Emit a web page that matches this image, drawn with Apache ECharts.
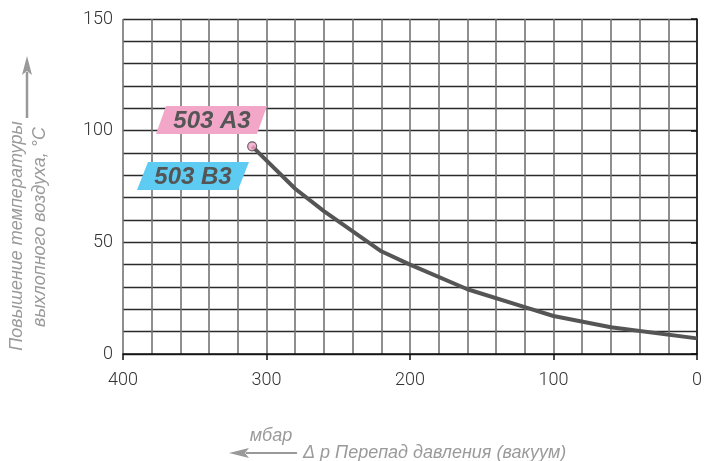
<!DOCTYPE html>
<html><head><meta charset="utf-8">
<script src="https://cdn.jsdelivr.net/npm/echarts@6/dist/echarts.min.js"></script>
<style>html,body{margin:0;padding:0;background:#fff}#c{width:705px;height:461px}</style>
</head><body><div id="c"></div>
<script>
// Data
const pressure = [310, 280, 260, 220, 200, 160, 120, 100, 60, 0];   // mbar (Δp vacuum)
const tempRise = [93, 74, 64, 46, 40, 29, 21, 17, 12, 7];           // °C
const xTickLabels = [0, 100, 200, 300, 400];
const yTickLabels = [0, 50, 100, 150];
const labelA = '503 A3';
const labelB = '503 B3';
const yTitle1 = 'Повышение температуры';
const yTitle2 = 'выхлопного воздуха, °С';
const xTitleUnit = 'мбар';
const xTitle = 'Δ p Перепад давления (вакуум)';

const chart = echarts.init(document.getElementById('c'), null, {renderer: 'canvas'});
const tickFont = {fontFamily: 'Roboto', fontWeight: 300, fontSize: 18, color: '#333'};
const titleFont = {fontFamily: 'Liberation Sans', fontStyle: 'italic', fontSize: 18, fill: '#9a9a9a'};
const labelFont = {fontFamily: 'Liberation Sans', fontWeight: 'bold', fontStyle: 'italic', fontSize: 24, fill: '#555'};

const xMin = Math.min(...xTickLabels), xMax = Math.max(...xTickLabels);
const yMin = Math.min(...yTickLabels), yMax = Math.max(...yTickLabels);

function para(x1, x2, y1, y2, skew, color) {
  return {type: 'polygon', shape: {points: [[x1 + skew, y1], [x2 + skew, y1], [x2, y2], [x1, y2]]},
    style: {fill: color}, z: 100};
}

chart.setOption({
  animation: false,
  backgroundColor: '#fff',
  grid: {left: 123, right: 8, top: 19, bottom: 107},
  xAxis: [
    {type: 'value', inverse: true, min: xMin, max: xMax, interval: 100,
      axisLine: {show: true, lineStyle: {color: '#111', width: 1.5}},
      axisTick: {show: true, length: 6, lineStyle: {color: '#111', width: 1.5}},
      axisLabel: Object.assign({margin: 17}, tickFont),
      splitLine: {show: false}, z: 5},
    {type: 'value', inverse: true, min: xMin, max: xMax, interval: 20, position: 'bottom',
      axisLine: {show: false}, axisTick: {show: false}, axisLabel: {show: false},
      splitLine: {show: true, lineStyle: {color: '#737373', width: 1.6}}}
  ],
  yAxis: [
    {type: 'value', min: yMin, max: yMax, interval: 50,
      axisLine: {show: true, lineStyle: {color: '#111', width: 1.5}},
      axisTick: {show: true, length: 6, lineStyle: {color: '#111', width: 1.5}},
      axisLabel: Object.assign({margin: 10}, tickFont),
      splitLine: {show: false}, z: 5},
    {type: 'value', min: yMin, max: yMax, interval: 10, position: 'left',
      axisLine: {show: false}, axisTick: {show: false}, axisLabel: {show: false},
      splitLine: {show: true, lineStyle: {color: '#2a2a2a', width: 1.4}}}
  ],
  series: [
    {type: 'line', xAxisIndex: 0, yAxisIndex: 0, data: pressure.map((p, i) => [p, tempRise[i]]),
      symbol: 'none', lineStyle: {color: '#555', width: 4}, z: 10},
    {type: 'scatter', xAxisIndex: 0, yAxisIndex: 0, data: [[pressure[0], tempRise[0]]],
      symbol: 'circle', symbolSize: 9,
      itemStyle: {color: '#f2a3c8', borderColor: '#444', borderWidth: 1.2}, z: 11}
  ],
  graphic: [
    para(156, 257, 106, 134, 10, '#f2a7c9'),
    {type: 'text', x: 212, y: 121, z: 101, style: Object.assign({text: labelA, textAlign: 'center', textVerticalAlign: 'middle'}, labelFont)},
    para(137, 238, 162, 190, 11, '#5ecbf3'),
    {type: 'text', x: 193, y: 177, z: 101, style: Object.assign({text: labelB, textAlign: 'center', textVerticalAlign: 'middle'}, labelFont)},
    // left axis title
    {type: 'text', x: 17, y: 236, rotation: Math.PI / 2, style: Object.assign({text: yTitle1, textAlign: 'center', textVerticalAlign: 'middle'}, titleFont)},
    {type: 'text', x: 40, y: 227, rotation: Math.PI / 2, style: Object.assign({text: yTitle2, textAlign: 'center', textVerticalAlign: 'middle'}, titleFont)},
    {type: 'line', shape: {x1: 27, y1: 118, x2: 27, y2: 72}, style: {stroke: '#999', lineWidth: 2.5}},
    {type: 'polygon', shape: {points: [[27, 56], [32, 75], [27, 71], [22, 75]]}, style: {fill: '#999'}},
    // bottom axis title
    {type: 'text', x: 271, y: 436, style: Object.assign({text: xTitleUnit, textAlign: 'center', textVerticalAlign: 'middle'}, titleFont)},
    {type: 'text', x: 303, y: 453, style: Object.assign({text: xTitle, textAlign: 'left', textVerticalAlign: 'middle'}, titleFont)},
    {type: 'line', shape: {x1: 297, y1: 453, x2: 246, y2: 453}, style: {stroke: '#999', lineWidth: 2}},
    {type: 'polygon', shape: {points: [[229, 453], [249, 448], [245, 453], [249, 458]]}, style: {fill: '#999'}}
  ]
});
</script></body></html>
